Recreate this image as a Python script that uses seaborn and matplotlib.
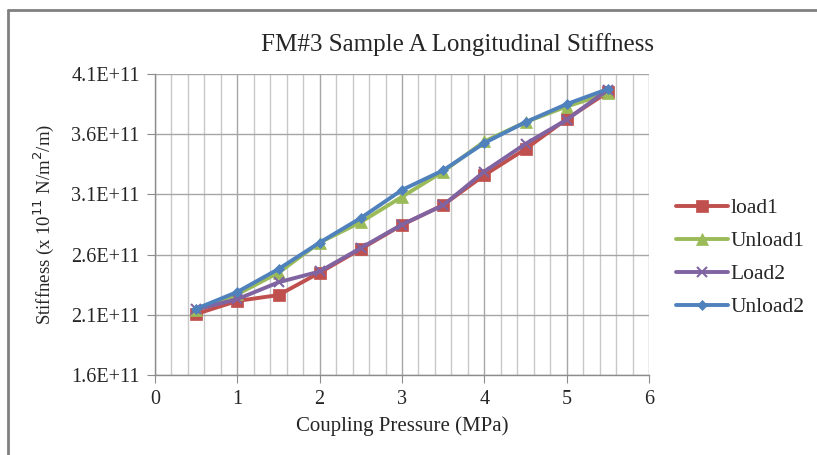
import numpy as np
import pandas as pd
import matplotlib
matplotlib.use("Agg")
import matplotlib.pyplot as plt
import seaborn as sns
from matplotlib.lines import Line2D
from matplotlib.ticker import MultipleLocator, FuncFormatter

# data
pressure = [0.5, 1.0, 1.5, 2.0, 2.5, 3.0, 3.5, 4.0, 4.5, 5.0, 5.5]
load1 = [2.107, 2.215, 2.264, 2.45, 2.647, 2.846, 3.012, 3.26, 3.477, 3.726, 3.95]
unload1 = [2.14, 2.27, 2.45, 2.70, 2.87, 3.08, 3.29, 3.54, 3.70, 3.83, 3.94]
load2 = [2.145, 2.23, 2.37, 2.46, 2.655, 2.85, 3.01, 3.29, 3.52, 3.72, 3.97]
unload2 = [2.15, 2.29, 2.48, 2.70, 2.904, 3.137, 3.30, 3.527, 3.70, 3.85, 3.975]
series_names = ["load1", "Unload1", "Load2", "Unload2"]
y_ticks = [1.6e11, 2.1e11, 2.6e11, 3.1e11, 3.6e11, 4.1e11]

rows = []
for name, vals in zip(series_names, [load1, unload1, load2, unload2]):
    for p, v in zip(pressure, vals):
        rows.append({"Pressure": p, "Stiffness": v * 1e11, "Series": name})
df = pd.DataFrame(rows)

COLORS = {"load1": "#C0504D", "Unload1": "#9BBB59", "Load2": "#8064A2", "Unload2": "#4F81BD"}
MARKERS = {"load1": "s", "Unload1": "^", "Load2": "x", "Unload2": "D"}
MSIZE = {"load1": 8, "Unload1": 8, "Load2": 7, "Unload2": 5.5}

sns.set_style("white")
plt.rcParams["font.family"] = ["Liberation Serif", "DejaVu Serif"]

fig = plt.figure(figsize=(8.17, 4.55), dpi=100)
ax = fig.add_axes([155 / 817, 1 - 375 / 455, 494 / 817, 301 / 455])

for name in series_names:
    d = df[df["Series"] == name]
    sns.lineplot(data=d, x="Pressure", y="Stiffness", ax=ax, color=COLORS[name],
                 marker=MARKERS[name], markersize=MSIZE[name], linewidth=2.8,
                 markeredgecolor=COLORS[name], markeredgewidth=1.5 if name == "Load2" else 0.5,
                 label=name, zorder=3)

ax.set_xlim(0, 6)
ax.set_ylim(1.6e11, 4.1e11)
ax.xaxis.set_major_locator(MultipleLocator(1))
ax.xaxis.set_minor_locator(MultipleLocator(0.2))
ax.set_yticks(y_ticks)
ax.yaxis.set_major_formatter(FuncFormatter(lambda v, p: f"{v / 1e11:.1f}E+11"))

ax.grid(which="major", axis="both", color="#a6a6a6", linewidth=1.0, zorder=0)
ax.grid(which="minor", axis="x", color="#c8c8c8", linewidth=1.0, zorder=0)
ax.set_axisbelow(True)
for s in ["top", "right"]:
    ax.spines[s].set_visible(False)
for s in ["left", "bottom"]:
    ax.spines[s].set_color("#8c8c8c")
    ax.spines[s].set_linewidth(1.0)
ax.tick_params(axis="both", which="major", direction="out", length=6, color="#8c8c8c",
               labelsize=14.5, pad=5, left=True, bottom=True)

ax.set_xlabel("Coupling Pressure (MPa)", fontsize=15, labelpad=5)
ax.set_ylabel("Stiffness (x 10$^{11}$ N/m$^2$/m)", fontsize=13.5, labelpad=11)

fig.text(457 / 817, 1 - 45 / 455, "FM#3 Sample A Longitudinal Stiffness",
         ha="center", va="center", fontsize=18)

leg = ax.legend(loc="center left", bbox_to_anchor=(1.038, 0.39), frameon=False,
                fontsize=15.5, handlelength=2.4, labelspacing=0.6, handletextpad=0.1,
                borderaxespad=0)

# chart frame (left and top edges visible)
fig.add_artist(Line2D([8 / 817, 8 / 817], [0, 1 - 10 / 455], transform=fig.transFigure,
                      color="#808080", linewidth=2))
fig.add_artist(Line2D([8 / 817, 1], [1 - 10 / 455, 1 - 10 / 455], transform=fig.transFigure,
                      color="#808080", linewidth=2))

fig.savefig("out.png", dpi=100)
